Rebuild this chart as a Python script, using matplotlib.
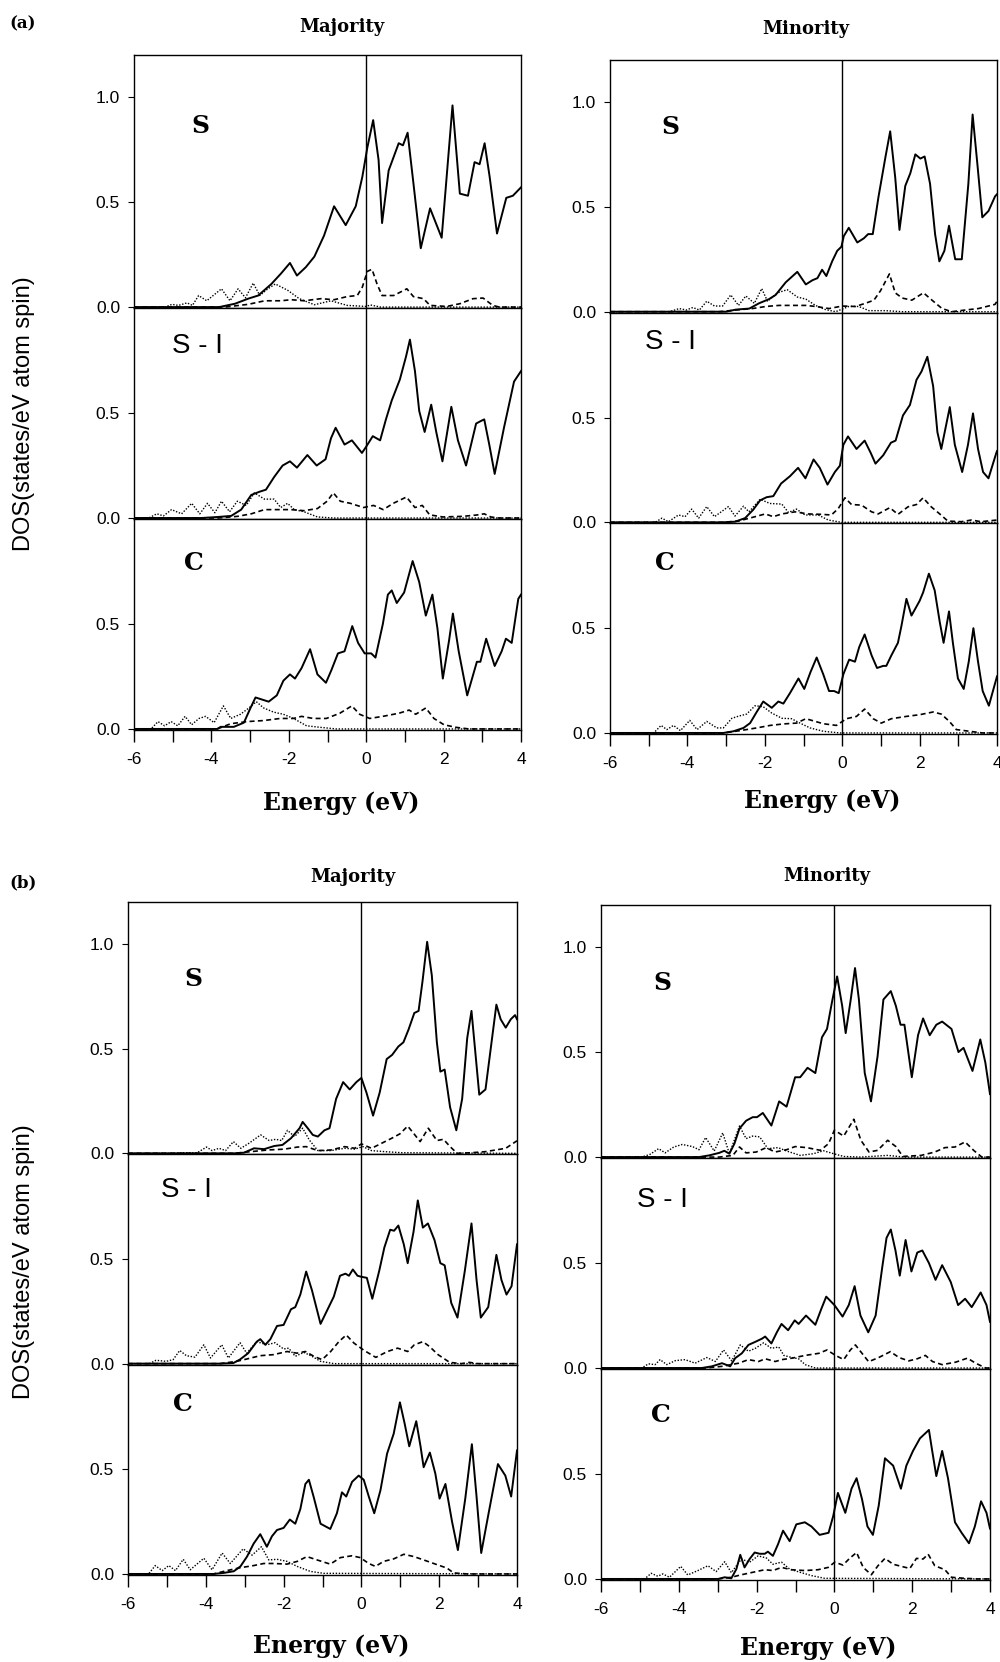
import matplotlib
matplotlib.use("Agg")
import matplotlib.pyplot as plt
import numpy as np

# DOS curves: (energy in eV, DOS in states/eV atom spin)
# solid = total, dotted / dashed = partial contributions

# ---- (a) majority ----
A_MAJ_S_SOLID = [(-6.0,0),(-3.8,0),(-3.39,0.016),(-3.05,0.04),(-2.79,0.055),(-2.45,0.11),(-2.20,0.16),(-1.97,0.21),(-1.79,0.15),(-1.56,0.19),(-1.34,0.24),(-1.09,0.34),(-0.83,0.48),(-0.53,0.39),(-0.27,0.48),(-0.10,0.62),(0.03,0.76),(0.18,0.89),(0.32,0.70),(0.41,0.40),(0.58,0.65),(0.84,0.78),(0.95,0.77),(1.07,0.83),(1.22,0.59),(1.41,0.28),(1.65,0.47),(1.95,0.33),(2.23,0.96),(2.42,0.54),(2.63,0.53),(2.80,0.69),(2.93,0.68),(3.06,0.78),(3.19,0.62),(3.38,0.35),(3.62,0.52),(3.79,0.53),(4.0,0.57)]
A_MAJ_S_DOT = [(-6.0,0),(-5.19,0),(-5.02,0.013),(-4.85,0.008),(-4.63,0.02),(-4.49,0.008),(-4.33,0.055),(-4.12,0.03),(-3.74,0.087),(-3.52,0.03),(-3.31,0.087),(-3.12,0.044),(-2.92,0.114),(-2.75,0.055),(-2.54,0.087),(-2.35,0.11),(-2.03,0.08),(-1.73,0.04),(-1.34,0.011),(-0.91,0.03),(-0.49,0.008),(0.0,0.003),(0.11,0.01),(0.37,0.0),(4.0,0.0)]
A_MAJ_S_DASH = [(-6,0),(-3.65,0),(-3.05,0.013),(-2.62,0.03),(-2.20,0.03),(-1.94,0.035),(-1.60,0.03),(-1.17,0.04),(-0.83,0.035),(-0.49,0.05),(-0.23,0.055),(-0.10,0.095),(0.03,0.17),(0.15,0.18),(0.28,0.11),(0.41,0.055),(0.71,0.055),(1.05,0.087),(1.22,0.05),(1.48,0.04),(1.65,0.008),(2.08,0.003),(2.42,0.016),(2.76,0.04),(3.02,0.043),(3.27,0.008),(3.44,0.0),(4.0,0.0)]

A_MAJ_S1_SOLID = [(-6,0),(-4.26,0),(-3.83,0.005),(-3.49,0.01),(-3.23,0.04),(-2.97,0.11),(-2.76,0.125),(-2.59,0.135),(-2.38,0.195),(-2.16,0.25),(-1.97,0.27),(-1.79,0.24),(-1.52,0.30),(-1.28,0.25),(-1.05,0.28),(-0.91,0.38),(-0.79,0.43),(-0.56,0.35),(-0.37,0.37),(-0.11,0.31),(0.0,0.34),(0.17,0.39),(0.36,0.37),(0.51,0.47),(0.66,0.56),(0.87,0.66),(1.03,0.77),(1.13,0.85),(1.26,0.70),(1.37,0.51),(1.51,0.41),(1.68,0.54),(1.81,0.41),(1.97,0.27),(2.20,0.53),(2.37,0.37),(2.58,0.25),(2.84,0.45),(2.94,0.46),(3.05,0.47),(3.18,0.35),(3.32,0.21),(3.56,0.43),(3.82,0.65),(4.0,0.70)]
A_MAJ_S1_DOT = [(-6,0),(-5.62,0),(-5.41,0.02),(-5.24,0.01),(-5.03,0.04),(-4.77,0.02),(-4.51,0.07),(-4.30,0.02),(-4.10,0.07),(-3.91,0.025),(-3.74,0.08),(-3.53,0.03),(-3.33,0.08),(-3.10,0.06),(-2.89,0.12),(-2.63,0.09),(-2.38,0.09),(-2.21,0.05),(-2.03,0.07),(-1.86,0.04),(-1.61,0.03),(-1.26,0.005),(-0.84,0.0),(4.0,0.0)]
A_MAJ_S1_DASH = [(-6,0),(-3.83,0),(-3.32,0.008),(-2.97,0.02),(-2.63,0.04),(-2.29,0.04),(-1.95,0.04),(-1.61,0.035),(-1.26,0.045),(-1.01,0.08),(-0.85,0.12),(-0.67,0.08),(-0.41,0.07),(-0.07,0.05),(0.19,0.06),(0.44,0.04),(0.70,0.07),(1.04,0.10),(1.26,0.05),(1.45,0.06),(1.64,0.015),(1.98,0.005),(2.50,0.008),(2.84,0.014),(3.05,0.02),(3.22,0.005),(3.44,0.0),(4.0,0.0)]

A_MAJ_C_SOLID = [(-6,0),(-3.85,0),(-3.76,0.01),(-3.42,0.01),(-3.16,0.03),(-2.99,0.10),(-2.86,0.15),(-2.69,0.14),(-2.52,0.13),(-2.31,0.16),(-2.14,0.23),(-1.97,0.26),(-1.84,0.24),(-1.67,0.29),(-1.45,0.38),(-1.26,0.26),(-1.04,0.22),(-0.90,0.28),(-0.73,0.36),(-0.56,0.37),(-0.36,0.49),(-0.21,0.41),(-0.04,0.36),(0.13,0.36),(0.24,0.34),(0.43,0.50),(0.56,0.64),(0.66,0.66),(0.79,0.60),(0.98,0.65),(1.20,0.80),(1.37,0.70),(1.54,0.54),(1.71,0.64),(1.84,0.48),(1.98,0.24),(2.14,0.42),(2.24,0.55),(2.39,0.37),(2.61,0.16),(2.86,0.32),(2.95,0.32),(3.10,0.43),(3.32,0.30),(3.50,0.37),(3.61,0.43),(3.76,0.41),(3.93,0.62),(4.0,0.64)]
A_MAJ_C_DOT = [(-6,0),(-5.56,0),(-5.38,0.035),(-5.21,0.015),(-5.04,0.035),(-4.87,0.015),(-4.68,0.06),(-4.51,0.02),(-4.32,0.05),(-4.15,0.06),(-3.93,0.03),(-3.69,0.11),(-3.50,0.05),(-3.25,0.07),(-3.03,0.10),(-2.84,0.13),(-2.65,0.10),(-2.39,0.08),(-2.14,0.07),(-1.88,0.05),(-1.54,0.015),(-1.20,0.008),(-0.77,0.0),(4.0,0.0)]
A_MAJ_C_DASH = [(-6,0),(-3.85,0),(-3.50,0.025),(-3.08,0.035),(-2.65,0.04),(-2.22,0.05),(-1.88,0.05),(-1.67,0.06),(-1.37,0.05),(-1.03,0.05),(-0.68,0.075),(-0.37,0.11),(-0.17,0.07),(0.09,0.05),(0.43,0.06),(0.85,0.075),(1.11,0.09),(1.28,0.07),(1.54,0.10),(1.75,0.05),(2.01,0.02),(2.31,0.008),(2.65,0.0),(4.0,0.0)]

# ---- (a) minority ----
A_MIN_S_SOLID = [(-6,0),(-3.00,0),(-2.75,0.01),(-2.40,0.015),(-2.15,0.04),(-1.89,0.06),(-1.72,0.08),(-1.46,0.14),(-1.16,0.19),(-0.94,0.13),(-0.77,0.15),(-0.64,0.16),(-0.52,0.20),(-0.41,0.17),(-0.26,0.24),(-0.13,0.29),(-0.02,0.31),(0.04,0.36),(0.17,0.40),(0.39,0.33),(0.56,0.35),(0.67,0.37),(0.79,0.37),(0.94,0.55),(1.12,0.74),(1.24,0.86),(1.37,0.64),(1.48,0.39),(1.63,0.60),(1.76,0.66),(1.89,0.75),(2.02,0.73),(2.13,0.74),(2.27,0.61),(2.40,0.37),(2.51,0.24),(2.64,0.29),(2.76,0.41),(2.92,0.25),(3.09,0.25),(3.26,0.61),(3.37,0.94),(3.50,0.69),(3.62,0.45),(3.78,0.48),(3.95,0.55),(4.0,0.56)]
A_MIN_S_DOT = [(-6,0),(-4.46,0),(-4.21,0.015),(-4.03,0.008),(-3.86,0.02),(-3.69,0.008),(-3.50,0.05),(-3.30,0.027),(-3.09,0.027),(-2.88,0.08),(-2.68,0.03),(-2.49,0.075),(-2.27,0.04),(-2.08,0.11),(-1.93,0.05),(-1.67,0.09),(-1.42,0.105),(-1.16,0.07),(-0.94,0.06),(-0.69,0.03),(-0.43,0.01),(-0.17,0.0),(0.17,0.025),(0.43,0.025),(0.69,0.005),(1.12,0.005),(1.55,0.0),(4.0,0.0)]
A_MIN_S_DASH = [(-6,0),(-3.18,0),(-2.75,0.008),(-2.32,0.015),(-1.97,0.025),(-1.63,0.03),(-1.29,0.03),(-0.94,0.03),(-0.69,0.025),(-0.34,0.015),(0.0,0.027),(0.34,0.025),(0.60,0.04),(0.82,0.055),(0.99,0.10),(1.22,0.18),(1.37,0.09),(1.55,0.065),(1.80,0.055),(2.10,0.09),(2.32,0.055),(2.58,0.015),(2.83,0.0),(3.18,0.008),(3.52,0.015),(3.95,0.035),(4.0,0.05)]

A_MIN_S1_SOLID = [(-6,0),(-3.11,0),(-2.77,0.003),(-2.51,0.02),(-2.30,0.06),(-2.12,0.105),(-1.95,0.12),(-1.78,0.125),(-1.58,0.185),(-1.35,0.22),(-1.14,0.26),(-0.95,0.21),(-0.74,0.30),(-0.58,0.26),(-0.38,0.18),(-0.19,0.24),(-0.06,0.27),(0.03,0.37),(0.15,0.41),(0.37,0.35),(0.58,0.39),(0.74,0.33),(0.86,0.28),(1.06,0.32),(1.26,0.38),(1.38,0.39),(1.57,0.51),(1.75,0.56),(1.92,0.68),(2.05,0.72),(2.20,0.79),(2.35,0.65),(2.46,0.43),(2.56,0.35),(2.78,0.55),(2.91,0.37),(3.10,0.24),(3.25,0.37),(3.38,0.52),(3.51,0.35),(3.64,0.24),(3.78,0.21),(3.98,0.33),(4.0,0.34)]
A_MIN_S1_DOT = [(-6,0),(-4.83,0),(-4.66,0.02),(-4.49,0.003),(-4.23,0.035),(-4.06,0.027),(-3.89,0.063),(-3.71,0.02),(-3.50,0.075),(-3.30,0.027),(-2.94,0.075),(-2.77,0.03),(-2.55,0.077),(-2.41,0.05),(-2.12,0.11),(-1.87,0.09),(-1.56,0.087),(-1.39,0.047),(-1.18,0.063),(-0.96,0.035),(-0.62,0.035),(-0.36,0.011),(-0.02,0.0),(4.0,0.0)]
A_MIN_S1_DASH = [(-6,0),(-3.11,0),(-2.68,0.006),(-2.25,0.027),(-1.99,0.04),(-1.78,0.027),(-1.56,0.04),(-1.22,0.05),(-0.88,0.04),(-0.53,0.038),(-0.28,0.035),(-0.10,0.066),(0.07,0.117),(0.24,0.085),(0.50,0.082),(0.76,0.05),(0.93,0.04),(1.23,0.07),(1.44,0.038),(1.70,0.074),(1.92,0.085),(2.09,0.117),(2.30,0.074),(2.52,0.04),(2.73,0.006),(3.08,0.003),(3.34,0.011),(3.59,0.003),(4.0,0.011)]

A_MIN_C_SOLID = [(-6,0),(-3.07,0),(-2.81,0.008),(-2.55,0.024),(-2.38,0.047),(-2.21,0.10),(-2.04,0.15),(-1.82,0.12),(-1.65,0.15),(-1.52,0.14),(-1.35,0.19),(-1.13,0.26),(-0.98,0.21),(-0.82,0.29),(-0.66,0.36),(-0.49,0.28),(-0.34,0.20),(-0.21,0.20),(-0.09,0.19),(0.03,0.28),(0.18,0.35),(0.33,0.34),(0.44,0.41),(0.58,0.47),(0.76,0.37),(0.90,0.31),(1.06,0.32),(1.14,0.32),(1.27,0.37),(1.44,0.43),(1.53,0.51),(1.66,0.64),(1.79,0.56),(2.00,0.63),(2.09,0.67),(2.24,0.76),(2.39,0.68),(2.52,0.53),(2.62,0.43),(2.76,0.58),(2.86,0.43),(2.99,0.26),(3.14,0.21),(3.27,0.34),(3.39,0.50),(3.51,0.34),(3.63,0.20),(3.79,0.13),(4.0,0.27)]
A_MIN_C_DOT = [(-6,0),(-4.87,0),(-4.68,0.036),(-4.53,0.016),(-4.36,0.036),(-4.18,0.011),(-3.94,0.06),(-3.75,0.016),(-3.50,0.055),(-3.24,0.024),(-3.07,0.024),(-2.85,0.07),(-2.68,0.08),(-2.47,0.09),(-2.25,0.13),(-2.04,0.125),(-1.82,0.095),(-1.56,0.07),(-1.31,0.068),(-1.09,0.047),(-0.83,0.024),(-0.49,0.008),(-0.06,0.0),(4.0,0.0)]
A_MIN_C_DASH = [(-6,0),(-3.07,0),(-2.64,0.011),(-2.21,0.024),(-1.86,0.036),(-1.52,0.043),(-1.18,0.047),(-0.94,0.068),(-0.75,0.058),(-0.49,0.044),(-0.15,0.036),(0.11,0.068),(0.37,0.079),(0.58,0.114),(0.80,0.068),(1.01,0.047),(1.27,0.068),(1.66,0.079),(2.00,0.087),(2.35,0.10),(2.56,0.09),(2.77,0.055),(2.95,0.016),(3.29,0.008),(3.63,0.0),(4.0,0.0)]

# ---- (b) majority ----
B_MAJ_S_SOLID = [(-6,0),(-3.28,0),(-3.02,0.003),(-2.76,0.024),(-2.50,0.02),(-2.24,0.035),(-2.03,0.04),(-1.81,0.072),(-1.59,0.12),(-1.51,0.15),(-1.38,0.12),(-1.25,0.088),(-1.12,0.08),(-0.95,0.11),(-0.82,0.12),(-0.65,0.26),(-0.47,0.34),(-0.30,0.305),(-0.13,0.34),(0.0,0.36),(0.13,0.29),(0.30,0.18),(0.47,0.29),(0.65,0.45),(0.79,0.47),(0.95,0.51),(1.08,0.53),(1.21,0.59),(1.36,0.67),(1.47,0.68),(1.57,0.82),(1.69,1.01),(1.81,0.85),(1.94,0.53),(2.03,0.39),(2.14,0.40),(2.28,0.22),(2.44,0.11),(2.59,0.26),(2.72,0.55),(2.83,0.68),(2.93,0.48),(3.03,0.28),(3.19,0.305),(3.29,0.45),(3.47,0.71),(3.58,0.64),(3.71,0.60),(3.84,0.64),(3.95,0.66),(4.0,0.64)]
B_MAJ_S_DOT = [(-6,0),(-4.91,0),(-4.57,0.003),(-4.22,0.003),(-3.98,0.03),(-3.84,0.013),(-3.66,0.024),(-3.49,0.013),(-3.29,0.056),(-3.10,0.024),(-2.89,0.048),(-2.59,0.088),(-2.37,0.061),(-2.20,0.067),(-2.05,0.061),(-1.90,0.11),(-1.72,0.08),(-1.51,0.12),(-1.34,0.064),(-1.12,0.013),(-0.78,0.013),(-0.43,0.024),(-0.17,0.02),(0.04,0.032),(0.26,0.013),(0.60,0.008),(1.03,0.003),(4.0,0.0)]
B_MAJ_S_DASH = [(-6,0),(-3.28,0),(-2.84,0.008),(-2.41,0.016),(-1.98,0.02),(-1.64,0.03),(-1.42,0.032),(-1.12,0.013),(-0.78,0.016),(-0.43,0.032),(-0.17,0.024),(0.0,0.045),(0.26,0.024),(0.52,0.048),(0.78,0.072),(0.99,0.093),(1.19,0.13),(1.34,0.096),(1.51,0.056),(1.72,0.12),(1.94,0.061),(2.11,0.067),(2.28,0.032),(2.46,0.0),(2.84,0.003),(3.19,0.008),(3.45,0.016),(3.71,0.024),(3.92,0.05),(4.0,0.06)]

B_MAJ_S1_SOLID = [(-6,0),(-3.64,0),(-3.29,0.003),(-3.12,0.02),(-2.91,0.05),(-2.69,0.105),(-2.60,0.117),(-2.47,0.09),(-2.34,0.117),(-2.17,0.18),(-2.00,0.185),(-1.81,0.26),(-1.70,0.27),(-1.57,0.33),(-1.42,0.44),(-1.27,0.35),(-1.05,0.19),(-0.88,0.255),(-0.71,0.32),(-0.55,0.42),(-0.41,0.43),(-0.32,0.42),(-0.22,0.45),(-0.10,0.42),(0.0,0.415),(0.14,0.41),(0.28,0.31),(0.46,0.445),(0.59,0.555),(0.74,0.64),(0.84,0.635),(0.95,0.66),(1.09,0.57),(1.19,0.48),(1.34,0.63),(1.45,0.78),(1.58,0.65),(1.71,0.67),(1.88,0.59),(2.03,0.48),(2.14,0.47),(2.31,0.29),(2.47,0.22),(2.66,0.445),(2.83,0.67),(2.96,0.40),(3.07,0.22),(3.26,0.27),(3.47,0.52),(3.60,0.40),(3.73,0.33),(3.86,0.37),(4.0,0.57)]
B_MAJ_S1_DOT = [(-6,0),(-5.45,0),(-5.28,0.016),(-5.02,0.011),(-4.84,0.019),(-4.67,0.063),(-4.50,0.038),(-4.28,0.031),(-4.05,0.09),(-3.88,0.027),(-3.59,0.09),(-3.42,0.027),(-3.12,0.10),(-2.95,0.05),(-2.69,0.105),(-2.43,0.09),(-2.22,0.10),(-2.00,0.07),(-1.87,0.074),(-1.70,0.035),(-1.48,0.054),(-1.27,0.035),(-1.05,0.011),(-0.71,0.0),(4.0,0.0)]
B_MAJ_S1_DASH = [(-6,0),(-3.64,0),(-3.21,0.011),(-2.95,0.022),(-2.60,0.038),(-2.26,0.043),(-1.91,0.058),(-1.66,0.05),(-1.44,0.058),(-1.22,0.035),(-1.01,0.019),(-0.79,0.058),(-0.58,0.105),(-0.39,0.137),(-0.19,0.098),(0.07,0.063),(0.37,0.03),(0.67,0.058),(0.93,0.074),(1.19,0.058),(1.36,0.09),(1.58,0.105),(1.75,0.082),(1.97,0.043),(2.27,0.006),(2.57,0.0),(2.78,0.006),(3.00,0.0),(4.0,0.0)]

B_MAJ_C_SOLID = [(-6,0),(-3.80,0),(-3.54,0.005),(-3.28,0.013),(-3.11,0.036),(-2.94,0.083),(-2.77,0.145),(-2.60,0.19),(-2.43,0.13),(-2.30,0.18),(-2.17,0.21),(-2.00,0.22),(-1.84,0.26),(-1.70,0.24),(-1.57,0.31),(-1.44,0.43),(-1.35,0.45),(-1.23,0.37),(-1.05,0.24),(-0.80,0.215),(-0.63,0.29),(-0.50,0.39),(-0.39,0.37),(-0.24,0.44),(-0.07,0.47),(0.06,0.45),(0.19,0.37),(0.33,0.29),(0.49,0.40),(0.66,0.575),(0.83,0.67),(0.99,0.82),(1.11,0.72),(1.23,0.61),(1.41,0.73),(1.52,0.61),(1.60,0.51),(1.76,0.58),(1.90,0.48),(2.01,0.36),(2.16,0.43),(2.33,0.25),(2.48,0.114),(2.67,0.36),(2.84,0.62),(2.96,0.37),(3.08,0.10),(3.27,0.29),(3.51,0.525),(3.70,0.47),(3.85,0.37),(4.0,0.59)]
B_MAJ_C_DOT = [(-6,0),(-5.47,0),(-5.30,0.04),(-5.12,0.016),(-4.95,0.04),(-4.78,0.016),(-4.58,0.07),(-4.40,0.02),(-4.05,0.075),(-3.84,0.02),(-3.58,0.10),(-3.37,0.05),(-3.04,0.12),(-2.81,0.09),(-2.57,0.13),(-2.38,0.067),(-2.17,0.07),(-1.91,0.06),(-1.65,0.036),(-1.31,0.012),(-0.97,0.003),(4.0,0.0)]
B_MAJ_C_DASH = [(-6,0),(-3.80,0),(-3.46,0.016),(-3.11,0.03),(-2.77,0.04),(-2.51,0.05),(-2.25,0.05),(-1.91,0.047),(-1.65,0.06),(-1.40,0.083),(-1.14,0.067),(-0.80,0.047),(-0.54,0.078),(-0.24,0.087),(-0.03,0.078),(0.19,0.05),(0.36,0.036),(0.57,0.06),(0.83,0.072),(1.09,0.094),(1.35,0.083),(1.60,0.067),(1.95,0.044),(2.20,0.028),(2.37,0.005),(2.72,0.0),(4.0,0.0)]

# ---- (b) minority ----
B_MIN_S_SOLID = [(-6,0),(-3.48,0),(-3.22,0.008),(-2.96,0.02),(-2.83,0.03),(-2.70,0.016),(-2.57,0.064),(-2.44,0.136),(-2.27,0.173),(-2.10,0.19),(-1.99,0.19),(-1.84,0.21),(-1.62,0.15),(-1.42,0.265),(-1.23,0.24),(-1.01,0.38),(-0.88,0.38),(-0.69,0.425),(-0.49,0.40),(-0.32,0.57),(-0.19,0.61),(-0.06,0.74),(0.07,0.86),(0.20,0.72),(0.29,0.59),(0.42,0.75),(0.53,0.90),(0.63,0.75),(0.78,0.40),(0.94,0.265),(1.11,0.48),(1.26,0.75),(1.45,0.79),(1.58,0.72),(1.70,0.63),(1.80,0.63),(1.99,0.38),(2.15,0.58),(2.28,0.66),(2.45,0.58),(2.62,0.63),(2.77,0.645),(3.01,0.61),(3.19,0.50),(3.32,0.52),(3.55,0.41),(3.75,0.56),(3.88,0.45),(4.0,0.30)]
B_MIN_S_DOT = [(-6,0),(-4.95,0),(-4.74,0.013),(-4.52,0.04),(-4.35,0.02),(-4.13,0.048),(-3.91,0.06),(-3.65,0.05),(-3.48,0.035),(-3.31,0.093),(-3.09,0.029),(-2.87,0.115),(-2.70,0.016),(-2.44,0.148),(-2.27,0.088),(-2.10,0.10),(-1.92,0.096),(-1.71,0.04),(-1.45,0.045),(-1.23,0.029),(-0.88,0.008),(-0.54,0.016),(-0.28,0.03),(-0.02,0.016),(0.24,0.003),(0.68,0.0),(1.37,0.008),(1.80,0.0),(4.0,0.0)]
B_MIN_S_DASH = [(-6,0),(-2.96,0),(-2.61,0.008),(-2.44,0.048),(-2.27,0.02),(-2.01,0.024),(-1.75,0.045),(-1.53,0.024),(-1.23,0.035),(-1.01,0.05),(-0.71,0.045),(-0.36,0.032),(-0.15,0.064),(0.0,0.128),(0.24,0.10),(0.50,0.18),(0.68,0.08),(0.89,0.024),(1.11,0.032),(1.37,0.08),(1.58,0.05),(1.76,0.003),(2.23,0.008),(2.58,0.024),(2.84,0.045),(3.10,0.048),(3.36,0.072),(3.58,0.032),(3.79,0.0),(4.0,0.0)]

B_MIN_S1_SOLID = [(-6,0),(-3.41,0),(-3.15,0.008),(-2.89,0.023),(-2.68,0.008),(-2.55,0.047),(-2.38,0.07),(-2.21,0.11),(-2.03,0.125),(-1.86,0.14),(-1.78,0.15),(-1.62,0.117),(-1.48,0.17),(-1.36,0.21),(-1.19,0.18),(-1.02,0.227),(-0.92,0.21),(-0.73,0.25),(-0.49,0.206),(-0.34,0.28),(-0.21,0.34),(0.0,0.30),(0.21,0.245),(0.37,0.30),(0.52,0.39),(0.67,0.25),(0.87,0.17),(1.06,0.25),(1.23,0.48),(1.34,0.62),(1.45,0.66),(1.57,0.56),(1.68,0.44),(1.83,0.61),(1.98,0.46),(2.13,0.55),(2.26,0.56),(2.43,0.50),(2.60,0.42),(2.77,0.49),(2.99,0.41),(3.18,0.30),(3.36,0.33),(3.53,0.29),(3.76,0.36),(3.91,0.30),(4.0,0.22)]
B_MIN_S1_DOT = [(-6,0),(-4.95,0),(-4.78,0.02),(-4.61,0.016),(-4.48,0.04),(-4.31,0.016),(-4.09,0.035),(-3.84,0.04),(-3.58,0.023),(-3.28,0.05),(-3.06,0.031),(-2.85,0.086),(-2.64,0.034),(-2.42,0.11),(-2.21,0.08),(-2.03,0.094),(-1.82,0.12),(-1.62,0.094),(-1.43,0.10),(-1.30,0.06),(-1.09,0.05),(-0.92,0.044),(-0.75,0.016),(-0.49,0.0),(4.0,0.0)]
B_MIN_S1_DASH = [(-6,0),(-3.32,0),(-2.89,0.008),(-2.46,0.023),(-2.21,0.04),(-1.95,0.031),(-1.78,0.044),(-1.52,0.031),(-1.35,0.04),(-1.09,0.047),(-0.75,0.06),(-0.40,0.07),(-0.19,0.086),(0.03,0.06),(0.24,0.04),(0.41,0.086),(0.54,0.11),(0.71,0.07),(0.88,0.03),(1.14,0.05),(1.44,0.078),(1.66,0.05),(1.91,0.034),(2.13,0.044),(2.34,0.06),(2.52,0.031),(2.77,0.016),(3.12,0.028),(3.42,0.047),(3.63,0.023),(3.89,0.0),(4.0,0.0)]

B_MIN_C_SOLID = [(-6,0),(-2.99,0),(-2.82,0.008),(-2.65,0.003),(-2.52,0.047),(-2.42,0.115),(-2.31,0.055),(-2.18,0.095),(-2.05,0.126),(-1.92,0.12),(-1.79,0.12),(-1.71,0.13),(-1.58,0.11),(-1.45,0.165),(-1.32,0.23),(-1.15,0.18),(-0.98,0.26),(-0.76,0.27),(-0.59,0.25),(-0.38,0.21),(-0.15,0.22),(-0.03,0.30),(0.09,0.41),(0.28,0.315),(0.44,0.43),(0.57,0.48),(0.71,0.38),(0.85,0.25),(0.99,0.21),(1.14,0.35),(1.30,0.575),(1.51,0.54),(1.71,0.43),(1.85,0.54),(2.02,0.61),(2.20,0.67),(2.43,0.71),(2.51,0.615),(2.62,0.49),(2.77,0.61),(2.92,0.48),(3.10,0.27),(3.27,0.22),(3.46,0.17),(3.61,0.25),(3.77,0.37),(3.91,0.315),(4.0,0.24)]
B_MIN_C_DOT = [(-6,0),(-4.88,0),(-4.71,0.027),(-4.54,0.013),(-4.41,0.024),(-4.24,0.008),(-3.95,0.06),(-3.77,0.019),(-3.51,0.04),(-3.25,0.063),(-3.04,0.035),(-2.82,0.082),(-2.65,0.03),(-2.39,0.095),(-2.18,0.08),(-1.96,0.11),(-1.75,0.10),(-1.58,0.07),(-1.36,0.08),(-1.15,0.047),(-0.85,0.03),(-0.59,0.016),(-0.25,0.003),(4.0,0.0)]
B_MIN_C_DASH = [(-6,0),(-2.99,0),(-2.65,0.008),(-2.39,0.02),(-2.14,0.03),(-1.79,0.044),(-1.58,0.04),(-1.36,0.055),(-1.11,0.044),(-0.76,0.04),(-0.42,0.044),(-0.16,0.055),(0.01,0.08),(0.22,0.066),(0.39,0.098),(0.57,0.126),(0.74,0.055),(0.95,0.02),(1.12,0.063),(1.30,0.098),(1.51,0.07),(1.72,0.06),(1.94,0.05),(2.11,0.098),(2.28,0.095),(2.41,0.118),(2.58,0.063),(2.84,0.044),(3.01,0.008),(3.35,0.003),(3.70,0.0),(4.0,0.0)]

LAYER_NAMES = ["S", "S - I", "C"]
X_TICKS = [-6, -4, -2, 0, 2, 4]
E_FERMI = 0.0

W, H = 1000, 1662
fig = plt.figure(figsize=(W / 100, H / 100), dpi=100)

SERIF = "DejaVu Serif"
SANS = "Liberation Sans"


def px_axes(left, right, top, bottom):
    return fig.add_axes([left / W, 1 - bottom / H, (right - left) / W, (bottom - top) / H])


def draw_block(box, panels, label_pos):
    left, right, top, bottom = box
    tops = [1.2, 1.0, 1.0]
    unit = (bottom - top) / sum(tops)
    edges = [top]
    for t in tops:
        edges.append(edges[-1] + t * unit)
    for k, curves in enumerate(panels):
        ax = px_axes(left, right, edges[k], edges[k + 1])
        solid, dot, dash = [np.array(c).T for c in curves]
        ax.plot(dot[0], dot[1], color="black", lw=1.0, ls=(0, (1, 1.2)))
        ax.plot(dash[0], dash[1], color="black", lw=1.2, ls=(0, (3, 2)))
        ax.plot(solid[0], solid[1], color="black", lw=1.4, solid_joinstyle="round")
        ax.axvline(E_FERMI, color="black", lw=1.0)
        ax.set_xlim(-6, 4)
        ax.set_ylim(-0.005, tops[k])
        ax.set_yticks([0.0, 0.5, 1.0] if k == 0 else [0.0, 0.5])
        ax.set_yticklabels(["%.1f" % v for v in ax.get_yticks()], fontfamily=SANS, fontsize=12.5)
        ax.tick_params(axis="y", direction="out", length=4, width=0.8, pad=6)
        for s in ax.spines.values():
            s.set_linewidth(1.0)
        if k == 2:
            ax.set_xticks(X_TICKS)
            ax.set_xticks(range(-5, 4, 2), minor=True)
            ax.set_xticklabels([str(v) for v in X_TICKS], fontfamily=SANS, fontsize=12.5)
            ax.tick_params(axis="x", which="both", direction="out", length=8.5, width=1.0, pad=7)
        else:
            ax.set_xticks([])
        e, v = label_pos[k]
        if LAYER_NAMES[k] == "S - I":
            ax.text(e, v, LAYER_NAMES[k], family=SANS, fontsize=20, ha="center", va="center")
        else:
            ax.text(e, v, LAYER_NAMES[k], family=SERIF, fontweight="bold", fontsize=18,
                    ha="center", va="center")


draw_block((134, 521, 55, 730),
           [(A_MAJ_S_SOLID, A_MAJ_S_DOT, A_MAJ_S_DASH),
            (A_MAJ_S1_SOLID, A_MAJ_S1_DOT, A_MAJ_S1_DASH),
            (A_MAJ_C_SOLID, A_MAJ_C_DOT, A_MAJ_C_DASH)],
           [(-4.29, 0.86), (-4.35, 0.82), (-4.45, 0.79)])
draw_block((610, 997, 60, 734),
           [(A_MIN_S_SOLID, A_MIN_S_DOT, A_MIN_S_DASH),
            (A_MIN_S1_SOLID, A_MIN_S1_DOT, A_MIN_S1_DASH),
            (A_MIN_C_SOLID, A_MIN_C_DOT, A_MIN_C_DASH)],
           [(-4.43, 0.88), (-4.43, 0.86), (-4.58, 0.81)])
draw_block((128, 517, 902, 1575),
           [(B_MAJ_S_SOLID, B_MAJ_S_DOT, B_MAJ_S_DASH),
            (B_MAJ_S1_SOLID, B_MAJ_S1_DOT, B_MAJ_S1_DASH),
            (B_MAJ_C_SOLID, B_MAJ_C_DOT, B_MAJ_C_DASH)],
           [(-4.33, 0.83), (-4.5, 0.83), (-4.59, 0.81)])
draw_block((601, 990, 905, 1580),
           [(B_MIN_S_SOLID, B_MIN_S_DOT, B_MIN_S_DASH),
            (B_MIN_S1_SOLID, B_MIN_S1_DOT, B_MIN_S1_DASH),
            (B_MIN_C_SOLID, B_MIN_C_DOT, B_MIN_C_DASH)],
           [(-4.41, 0.83), (-4.41, 0.80), (-4.46, 0.78)])


def ftext(x, y, s, **kw):
    fig.text(x / W, 1 - y / H, s, ha="center", va="center", **kw)


ftext(23, 24, "(a)", family=SERIF, fontweight="bold", fontsize=12)
ftext(23, 883, "(b)", family=SERIF, fontweight="bold", fontsize=12)
ftext(342, 27, "Majority", family=SERIF, fontweight="bold", fontsize=13)
ftext(806, 29, "Minority", family=SERIF, fontweight="bold", fontsize=13)
ftext(353, 877, "Majority", family=SERIF, fontweight="bold", fontsize=13)
ftext(827, 876, "Minority", family=SERIF, fontweight="bold", fontsize=13)
ftext(341, 803, "Energy (eV)", family=SERIF, fontweight="bold", fontsize=17)
ftext(822, 801, "Energy (eV)", family=SERIF, fontweight="bold", fontsize=17)
ftext(331, 1646, "Energy (eV)", family=SERIF, fontweight="bold", fontsize=17)
ftext(818, 1648, "Energy (eV)", family=SERIF, fontweight="bold", fontsize=17)
ftext(24, 414, "DOS(states/eV atom spin)", family=SANS, fontsize=17, rotation=90)
ftext(24, 1262, "DOS(states/eV atom spin)", family=SANS, fontsize=17, rotation=90)

fig.savefig("out.png", dpi=100)
